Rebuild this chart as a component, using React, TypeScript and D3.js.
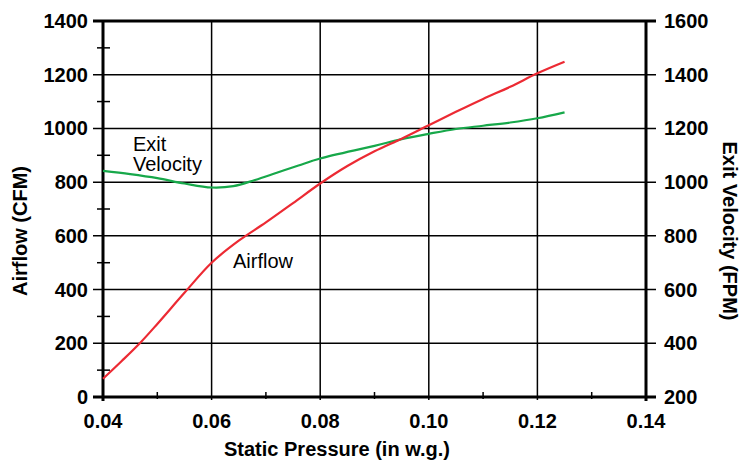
import React, { useEffect, useRef } from "react";
import * as d3 from "d3";

const pressure = [0.04, 0.0435, 0.047, 0.05, 0.055, 0.06, 0.065, 0.07, 0.075, 0.08, 0.085, 0.09, 0.095, 0.1, 0.105, 0.11, 0.115, 0.12, 0.125];
const airflow = [68, 135, 205, 272, 388, 500, 582, 650, 722, 795, 860, 915, 962, 1012, 1062, 1110, 1155, 1205, 1248];

const velPressure = [0.04, 0.045, 0.05, 0.055, 0.06, 0.064, 0.068, 0.072, 0.076, 0.08, 0.09, 0.095, 0.1, 0.105, 0.11, 0.115, 0.12, 0.125];
const velocity = [1042, 1030, 1015, 995, 980, 985, 1008, 1035, 1062, 1088, 1135, 1160, 1180, 1198, 1210, 1222, 1238, 1260];

const xTicks = [0.04, 0.06, 0.08, 0.1, 0.12, 0.14];
const xMinor = [0.05, 0.07, 0.09, 0.11, 0.13];
const leftTicks = [0, 200, 400, 600, 800, 1000, 1200, 1400];
const leftMinor = [100, 300, 500, 700, 900, 1100, 1300];
const rightTicks = [200, 400, 600, 800, 1000, 1200, 1400, 1600];

const font = "'Liberation Sans', Arial, sans-serif";

export default function App() {
  const ref = useRef<SVGSVGElement>(null);

  useEffect(() => {
    const svg = d3.select(ref.current);
    svg.selectAll("*").remove();

    const margin = { top: 21, right: 96, bottom: 66, left: 103 };
    const width = 742;
    const height = 463;
    const w = width - margin.left - margin.right;
    const h = height - margin.top - margin.bottom;

    const x = d3.scaleLinear().domain([0.04, 0.14]).range([0, w]);
    const yL = d3.scaleLinear().domain([0, 1400]).range([h, 0]);
    const yR = d3.scaleLinear().domain([200, 1600]).range([h, 0]);

    const g = svg.append("g").attr("transform", `translate(${margin.left}, ${margin.top})`);

    // grid
    g.selectAll(".hgrid")
      .data(leftTicks.slice(1, -1))
      .enter()
      .append("line")
      .attr("x1", -10)
      .attr("x2", w + 10)
      .attr("y1", d => yL(d))
      .attr("y2", d => yL(d))
      .attr("stroke", "#000")
      .attr("stroke-width", 1.5);

    g.selectAll(".vgrid")
      .data(xTicks.slice(1, -1))
      .enter()
      .append("line")
      .attr("x1", d => x(d))
      .attr("x2", d => x(d))
      .attr("y1", 0)
      .attr("y2", h + 3)
      .attr("stroke", "#000")
      .attr("stroke-width", 1.5);

    // minor ticks
    g.selectAll(".lminor")
      .data(leftMinor)
      .enter()
      .append("line")
      .attr("x1", -6)
      .attr("x2", 7)
      .attr("y1", d => yL(d))
      .attr("y2", d => yL(d))
      .attr("stroke", "#000")
      .attr("stroke-width", 1.5);

    g.selectAll(".xminor")
      .data(xMinor)
      .enter()
      .append("line")
      .attr("x1", d => x(d))
      .attr("x2", d => x(d))
      .attr("y1", h - 5)
      .attr("y2", h + 2)
      .attr("stroke", "#000")
      .attr("stroke-width", 1.5);

    // frame
    const thick = 3;
    g.append("line").attr("x1", -10).attr("x2", w + 10).attr("y1", 0).attr("y2", 0).attr("stroke", "#000").attr("stroke-width", thick);
    g.append("line").attr("x1", -10).attr("x2", w + 10).attr("y1", h).attr("y2", h).attr("stroke", "#000").attr("stroke-width", thick);
    g.append("line").attr("x1", 0).attr("x2", 0).attr("y1", 0).attr("y2", h + 4).attr("stroke", "#000").attr("stroke-width", thick);
    g.append("line").attr("x1", w).attr("x2", w).attr("y1", 0).attr("y2", h + 4).attr("stroke", "#000").attr("stroke-width", thick);

    // tick labels
    g.selectAll(".ll")
      .data(leftTicks)
      .enter()
      .append("text")
      .attr("x", -15)
      .attr("y", d => yL(d) + 7)
      .attr("text-anchor", "end")
      .attr("font-family", font)
      .attr("font-weight", "bold")
      .attr("font-size", 20)
      .text(d => d);

    g.selectAll(".rl")
      .data(rightTicks)
      .enter()
      .append("text")
      .attr("x", w + 18)
      .attr("y", d => yR(d) + 7)
      .attr("text-anchor", "start")
      .attr("font-family", font)
      .attr("font-weight", "bold")
      .attr("font-size", 20)
      .text(d => d);

    g.selectAll(".xl")
      .data(xTicks)
      .enter()
      .append("text")
      .attr("x", d => x(d))
      .attr("y", h + 31)
      .attr("text-anchor", "middle")
      .attr("font-family", font)
      .attr("font-weight", "bold")
      .attr("font-size", 20)
      .text(d => d3.format(".2f")(d));

    // axis titles
    svg.append("text")
      .attr("transform", `translate(27, ${margin.top + h / 2 + 22}) rotate(-90)`)
      .attr("text-anchor", "middle")
      .attr("font-family", font)
      .attr("font-weight", "bold")
      .attr("font-size", 20)
      .text("Airflow (CFM)");

    svg.append("text")
      .attr("transform", `translate(723, ${margin.top + h / 2 + 22}) rotate(90)`)
      .attr("text-anchor", "middle")
      .attr("font-family", font)
      .attr("font-weight", "bold")
      .attr("font-size", 20)
      .text("Exit Velocity (FPM)");

    svg.append("text")
      .attr("x", 337)
      .attr("y", 456)
      .attr("text-anchor", "middle")
      .attr("font-family", font)
      .attr("font-weight", "bold")
      .attr("font-size", 20)
      .text("Static Pressure (in w.g.)");

    // curves
    const lineL = d3
      .line<number>()
      .x((d, i) => x(pressure[i]))
      .y(d => yL(d))
      .curve(d3.curveCatmullRom.alpha(0.5));
    const lineR = d3
      .line<number>()
      .x((d, i) => x(velPressure[i]))
      .y(d => yR(d))
      .curve(d3.curveCatmullRom.alpha(0.5));

    g.append("path")
      .attr("d", lineR(velocity))
      .attr("fill", "none")
      .attr("stroke", "#17a84a")
      .attr("stroke-width", 2.2);

    g.append("path")
      .attr("d", lineL(airflow))
      .attr("fill", "none")
      .attr("stroke", "#ec2a33")
      .attr("stroke-width", 2.2);

    // labels
    const lab = g.append("text").attr("font-family", font).attr("font-size", 20);
    lab.append("tspan").attr("x", 30).attr("y", 130).text("Exit");
    lab.append("tspan").attr("x", 30).attr("y", 150).text("Velocity");

    g.append("text")
      .attr("x", 130)
      .attr("y", 247)
      .attr("font-family", font)
      .attr("font-size", 20)
      .text("Airflow");
  }, []);

  return <svg ref={ref} width={742} height={463} style={{ position: "absolute", left: 0, top: 0 }} />;
}
